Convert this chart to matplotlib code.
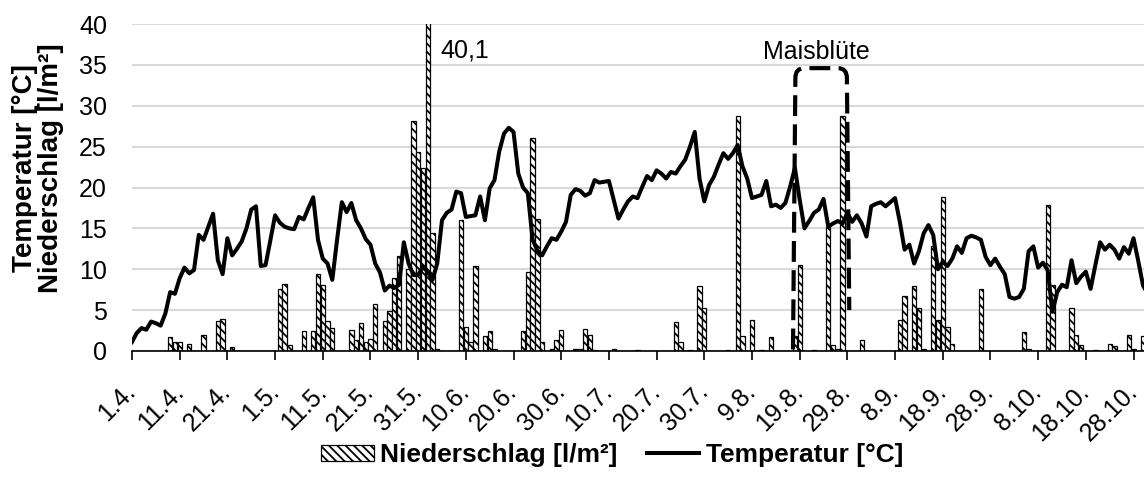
import numpy as np
import matplotlib
matplotlib.use("Agg")
import matplotlib.pyplot as plt
from matplotlib.path import Path
from matplotlib.patches import PathPatch

plt.rcParams['font.family'] = ['Liberation Sans', 'DejaVu Sans']
plt.rcParams['hatch.linewidth'] = 1.3

# daily values 1.4. - 31.10.
temperatur = [
    1.1, 2.2, 2.8, 2.6, 3.6, 3.4, 3.1, 4.6, 7.2, 7.0,
    8.9, 10.2, 9.5, 9.9, 14.2, 13.6, 15.2, 16.8, 11.1, 9.4,
    13.8, 11.7, 12.5, 13.4, 15.0, 17.3, 17.7, 10.4, 10.5, 13.5,
    16.6, 15.7, 15.2, 15.0, 14.9, 16.4, 16.1, 17.5, 18.8, 13.6,
    11.3, 10.7, 8.7, 13.6, 18.2, 17.0, 18.1, 16.0, 15.0, 13.7,
    13.0, 10.7, 9.6, 7.4, 8.0, 7.7, 8.1, 13.3, 10.7, 9.3,
    9.3, 10.3, 9.7, 8.7, 10.7, 16.0, 16.9, 17.3, 19.5, 19.3,
    16.4, 16.5, 16.6, 18.9, 16.0, 19.9, 20.9, 24.4, 26.6, 27.3,
    26.8, 21.7, 20.0, 19.3, 13.6, 12.3, 11.7, 12.8, 13.8, 13.6,
    14.6, 15.8, 19.1, 19.8, 19.6, 19.0, 19.3, 20.9, 20.6, 20.7,
    20.8, 18.5, 16.2, 17.3, 18.3, 18.9, 18.7, 20.1, 21.4, 20.9,
    22.1, 21.7, 21.1, 21.9, 21.7, 22.6, 23.4, 25.0, 26.8, 21.1,
    18.3, 20.3, 21.3, 22.8, 24.2, 23.5, 24.2, 25.2, 22.6, 21.1,
    18.7, 18.9, 19.1, 20.8, 17.7, 17.9, 17.5, 18.1, 20.1, 22.4,
    18.5, 15.0, 15.9, 16.9, 17.3, 18.6, 15.2, 15.6, 15.9, 15.6,
    16.9, 15.8, 16.6, 15.6, 14.0, 17.7, 18.0, 18.2, 17.7, 18.2,
    18.7, 15.8, 12.4, 13.0, 10.7, 12.2, 14.4, 15.4, 14.2, 10.0,
    10.9, 10.4, 11.3, 12.8, 12.0, 13.8, 14.1, 13.9, 13.6, 11.5,
    10.5, 11.3, 10.3, 9.4, 6.6, 6.4, 6.6, 7.6, 12.2, 12.8,
    10.2, 10.8, 9.9, 4.8, 7.2, 8.1, 7.8, 11.1, 8.3, 9.1,
    9.7, 7.6, 10.5, 13.3, 12.4, 13.0, 12.4, 11.3, 12.7, 11.9,
    13.8, 11.0, 8.0, 7.0,
]

niederschlag = [
    0, 0, 0, 0, 0, 0, 0, 0, 1.7, 1.1,
    1.1, 0, 0.8, 0, 0, 1.9, 0, 0, 3.7, 3.9,
    0, 0.5, 0, 0, 0, 0, 0, 0, 0, 0,
    0, 7.6, 8.2, 0.7, 0, 0, 2.5, 0, 2.5, 9.4,
    8.1, 3.7, 2.8, 0, 0, 0, 2.6, 1.3, 3.4, 1.1,
    1.5, 5.8, 0, 3.7, 4.9, 8.9, 11.6, 0, 10.0, 28.1,
    24.4, 22.4, 40.1, 14.4, 0.2, 0, 0, 0, 0, 16.0,
    2.9, 1.1, 10.4, 0, 1.8, 2.5, 0.3, 0, 0, 0,
    0, 0, 2.4, 9.7, 26.1, 16.2, 1.1, 0, 0.3, 1.4,
    2.6, 0, 0, 0.2, 0.2, 2.7, 2.0, 0.1, 0, 0,
    0, 0.3, 0, 0, 0, 0, 0.1, 0, 0, 0,
    0, 0, 0, 0, 3.5, 1.1, 0, 0.1, 0, 7.9,
    5.3, 0, 0, 0, 0, 0.1, 0, 28.7, 1.8, 0,
    3.8, 0, 0.1, 0, 1.7, 0, 0, 0, 0, 1.8,
    10.5, 0, 0, 0.1, 0, 0, 15.2, 0.7, 0.3, 28.7,
    0, 0, 0, 1.4, 0, 0, 0, 0, 0, 0,
    0, 3.8, 6.7, 0, 8.0, 5.2, 0.3, 0, 12.8, 3.8,
    18.8, 2.9, 0.8, 0, 0, 0, 0, 0, 7.6, 0,
    0, 0, 0, 0, 0, 0, 0, 2.3, 0.3, 0,
    0, 0, 17.8, 8.1, 0, 0, 0, 5.2, 2.0, 0.7,
    0, 0, 0.1, 0, 0, 0.9, 0.6, 0, 0, 2.0,
    0.2, 0, 1.8, 0,
]

tick_labels = ['1.4.', '11.4.', '21.4.', '1.5.', '11.5.', '21.5.', '31.5.',
               '10.6.', '20.6.', '30.6.', '10.7.', '20.7.', '30.7.', '9.8.',
               '19.8.', '29.8.', '8.9.', '18.9.', '28.9.', '8.10.', '18.10.',
               '28.10.']

# Maisbluete: 19.8. - 29.8.
bluete_start, bluete_end = 139, 150

days = np.arange(len(temperatur))
max_label = max(niederschlag)
max_day = niederschlag.index(max_label)

fig = plt.figure(figsize=(11.44, 4.8), dpi=100)
ax = fig.add_axes([132 / 1144, 1 - 351 / 480, 1 - 132 / 1144, 327 / 480])

bars = ax.bar(days, niederschlag, width=0.9, color='white', edgecolor='black',
              linewidth=0.9, hatch='\\\\\\\\', zorder=2)
line, = ax.plot(days, temperatur, color='black', lw=2.9,
                solid_joinstyle='round', zorder=3)

ax.set_ylim(0, 40)
ax.set_xlim(0, 212.2)
ax.set_yticks(range(0, 41, 5))
ax.set_xticks(range(0, len(temperatur), 10))
ax.set_xticklabels(tick_labels, rotation=45, ha='right', va='center',
                   rotation_mode='anchor')
ax.tick_params(axis='y', length=0, pad=18, labelsize=18)
ax.tick_params(axis='x', length=6.5, width=1.2, direction='out', pad=20,
               labelsize=18)
ax.grid(axis='y', color='#d9d9d9', lw=1.5, zorder=0)
ax.set_axisbelow(True)
for s in ['top', 'right', 'left']:
    ax.spines[s].set_visible(False)
ax.spines['bottom'].set_linewidth(1.2)
ax.spines['bottom'].set_zorder(4)

ax.text(max_day + 2.6, 36.8, f'{max_label:.1f}'.replace('.', ','),
        fontsize=18, ha='left', va='center')

# dashed bracket around the flowering period
x0, x1, top = bluete_start, bluete_end, 34.6
rx, ry = 2.0, 1.2
verts = [(x0 - 0.4, 0.2), (x0 + 0.1, top - ry), (x0 + 0.1, top), (x0 + rx, top),
         (x1 - rx, top), (x1 - 0.1, top), (x1 - 0.1, top - ry), (x1 + 0.4, 5.0)]
codes = [Path.MOVETO, Path.LINETO, Path.CURVE3, Path.CURVE3,
         Path.LINETO, Path.CURVE3, Path.CURVE3, Path.LINETO]
ax.add_patch(PathPatch(Path(verts, codes), fill=False, lw=3.0,
                       linestyle=(0, (5, 2)), edgecolor='black', zorder=5,
                       clip_on=False))
ax.text((x0 + x1) / 2 - 1, 36.6, 'Maisblüte', fontsize=18, ha='center',
        va='center')

fig.text(38 / 1144, 1 - 168 / 480, 'Temperatur [°C]\nNiederschlag [l/m²]',
         rotation=90, ha='center', va='center', multialignment='center',
         fontsize=20, fontweight='bold', linespacing=1.0)

fig.legend([bars, line], ['Niederschlag [l/m²]', 'Temperatur [°C]'],
           loc='center', bbox_to_anchor=(612 / 1144, 1 - 455 / 480), ncol=2,
           frameon=False, prop={'size': 19, 'weight': 'bold'},
           handlelength=2.0, handleheight=0.55, handletextpad=0.25,
           columnspacing=1.1)

fig.savefig('out.png', dpi=100)
